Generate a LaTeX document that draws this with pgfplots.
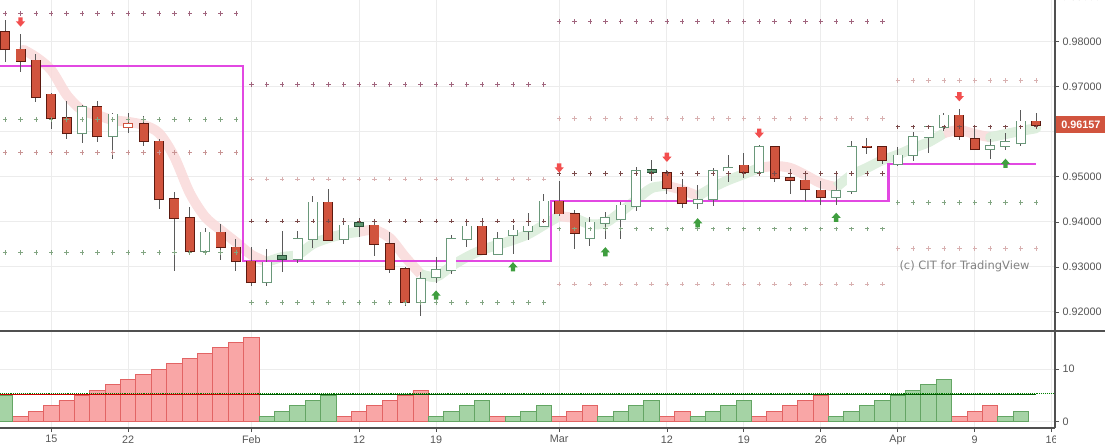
\documentclass[border=0pt]{standalone}
\usepackage{pgfplots}
\pgfplotsset{compat=1.18}
\usepackage{pgfplotstable}
\usepackage{fontspec}
\setmainfont{Liberation Sans}
\newfontfamily\dejavu{DejaVu Sans}

\definecolor{cred}{RGB}{209,84,62}
\definecolor{credb}{RGB}{92,26,16}
\definecolor{cgrn}{RGB}{106,152,122}
\definecolor{cgfill}{RGB}{94,150,112}
\definecolor{cgfillb}{RGB}{40,80,55}
\definecolor{wick}{RGB}{90,90,90}
\definecolor{mag}{RGB}{226,72,226}
\definecolor{ribpink}{RGB}{249,219,219}
\definecolor{ribgreen}{RGB}{218,237,218}
\definecolor{pvmauve}{RGB}{160,100,125}
\definecolor{pvdark}{RGB}{122,74,74}
\definecolor{pvgreen}{RGB}{130,165,130}
\definecolor{pvpink}{RGB}{200,148,148}
\definecolor{pvlpink}{RGB}{216,176,176}
\definecolor{arrred}{RGB}{242,78,78}
\definecolor{arrgrn}{RGB}{63,158,63}
\definecolor{hred}{RGB}{249,166,166}
\definecolor{hredb}{RGB}{226,100,100}
\definecolor{hgrn}{RGB}{165,211,165}
\definecolor{hgrnb}{RGB}{100,165,100}
\definecolor{gridc}{RGB}{236,236,236}
\definecolor{axc}{RGB}{80,80,80}
\definecolor{tickc}{RGB}{85,85,85}
\definecolor{wmark}{RGB}{130,130,130}

\pgfdeclareplotmark{dnarrow}{%
 \pgfpathmoveto{\pgfqpoint{-2.2pt}{4.6pt}}%
 \pgfpathlineto{\pgfqpoint{2.2pt}{4.6pt}}%
 \pgfpathlineto{\pgfqpoint{2.2pt}{0.6pt}}%
 \pgfpathlineto{\pgfqpoint{4.6pt}{0.6pt}}%
 \pgfpathlineto{\pgfqpoint{0pt}{-4.6pt}}%
 \pgfpathlineto{\pgfqpoint{-4.6pt}{0.6pt}}%
 \pgfpathlineto{\pgfqpoint{-2.2pt}{0.6pt}}%
 \pgfpathclose\pgfusepathqfill}
\pgfdeclareplotmark{uparrow}{%
 \pgfpathmoveto{\pgfqpoint{-2.2pt}{-4.6pt}}%
 \pgfpathlineto{\pgfqpoint{2.2pt}{-4.6pt}}%
 \pgfpathlineto{\pgfqpoint{2.2pt}{-0.6pt}}%
 \pgfpathlineto{\pgfqpoint{4.6pt}{-0.6pt}}%
 \pgfpathlineto{\pgfqpoint{0pt}{4.6pt}}%
 \pgfpathlineto{\pgfqpoint{-4.6pt}{-0.6pt}}%
 \pgfpathlineto{\pgfqpoint{-2.2pt}{-0.6pt}}%
 \pgfpathclose\pgfusepathqfill}

% candles: i open high low close
\pgfplotstableread{
i o h l c
-3 0.98222 0.98482 0.97556 0.97831
-2 0.97831 0.98171 0.97334 0.97578
-1 0.97587 0.97727 0.96668 0.96766
0 0.96832 0.96861 0.96056 0.96300
1 0.96300 0.96684 0.95847 0.95967
3 0.96544 0.96684 0.95780 0.95900
6 0.96180 0.96344 0.95692 0.95789
7 0.95789 0.95847 0.94293 0.94502
8 0.94502 0.94670 0.92917 0.94080
9 0.94080 0.94324 0.93265 0.93347
11 0.93769 0.93953 0.93148 0.93436
12 0.93436 0.93614 0.92917 0.93125
13 0.93125 0.93436 0.92584 0.92659
18 0.94435 0.94724 0.93583 0.93598
21 0.93924 0.94027 0.93243 0.93516
22 0.93516 0.93776 0.92872 0.92948
23 0.92948 0.92999 0.92140 0.92215
28 0.93902 0.94093 0.93276 0.93294
33 0.94457 0.94919 0.94138 0.94186
34 0.94186 0.94264 0.93405 0.93760
40 0.95085 0.95152 0.94619 0.94759
41 0.94768 0.94952 0.94315 0.94413
45 0.95256 0.95523 0.94981 0.95101
47 0.95656 0.95685 0.94879 0.94968
48 0.94968 0.95174 0.94619 0.94923
49 0.94923 0.95079 0.94471 0.94724
50 0.94701 0.94901 0.94368 0.94546
53 0.95678 0.95856 0.95501 0.95663
54 0.95656 0.95692 0.95279 0.95367
59 0.96366 0.96513 0.95811 0.95900
60 0.95834 0.96144 0.95612 0.95612
64 0.96233 0.96411 0.96069 0.96157
}\tRed
\pgfplotstableread{
i o h l c
5 0.96100 0.96411 0.95967 0.96180
}\tRedH
\pgfplotstableread{
i o h l c
15 0.93250 0.93798 0.92894 0.93170
20 0.93969 0.94080 0.93671 0.93916
39 0.95152 0.95374 0.94908 0.95108
}\tGrnF
\pgfplotstableread{
i o h l c
2 0.95967 0.96588 0.95758 0.96544
4 0.95900 0.96411 0.95390 0.96388
10 0.93347 0.93871 0.93287 0.93769
14 0.92659 0.93398 0.92584 0.93103
16 0.93170 0.93805 0.93094 0.93614
17 0.93614 0.94575 0.93421 0.94435
19 0.93614 0.94093 0.93509 0.93924
24 0.92215 0.92894 0.91918 0.92726
25 0.92770 0.93214 0.92644 0.92926
26 0.92926 0.93709 0.92843 0.93614
27 0.93614 0.94020 0.93450 0.93902
29 0.93294 0.93776 0.93259 0.93614
30 0.93716 0.93931 0.93294 0.93813
31 0.93805 0.94204 0.93605 0.93902
32 0.93902 0.94626 0.93902 0.94457
35 0.93649 0.94102 0.93465 0.93991
36 0.93982 0.94213 0.93627 0.94080
37 0.94071 0.94442 0.93614 0.94368
38 0.94360 0.95212 0.94249 0.95130
42 0.94420 0.94812 0.94280 0.94493
43 0.94502 0.95203 0.94360 0.95137
44 0.95137 0.95485 0.94892 0.95190
46 0.95101 0.95714 0.95041 0.95656
51 0.94546 0.95114 0.94375 0.94686
52 0.94679 0.95789 0.94613 0.95656
55 0.95292 0.95663 0.95241 0.95478
56 0.95478 0.95996 0.95352 0.95878
57 0.95878 0.96129 0.95536 0.96100
58 0.96100 0.96411 0.96011 0.96366
61 0.95618 0.95840 0.95390 0.95685
62 0.95678 0.95967 0.95596 0.95767
63 0.95745 0.96484 0.95692 0.96233
}\tGrn

% pivot levels per month
\pgfplotstableread{
i a b c d
-3 0.98630 0.96277 0.95545 0.93325
-2 0.98630 0.96277 0.95545 0.93325
-1 0.98630 0.96277 0.95545 0.93325
0 0.98630 0.96277 0.95545 0.93325
1 0.98630 0.96277 0.95545 0.93325
2 0.98630 0.96277 0.95545 0.93325
3 0.98630 0.96277 0.95545 0.93325
4 0.98630 0.96277 0.95545 0.93325
5 0.98630 0.96277 0.95545 0.93325
6 0.98630 0.96277 0.95545 0.93325
7 0.98630 0.96277 0.95545 0.93325
8 0.98630 0.96277 0.95545 0.93325
9 0.98630 0.96277 0.95545 0.93325
10 0.98630 0.96277 0.95545 0.93325
11 0.98630 0.96277 0.95545 0.93325
12 0.98630 0.96277 0.95545 0.93325
}\pvJan
\pgfplotstableread{
i a b c d
13 0.97054 0.94946 0.94020 0.92215
14 0.97054 0.94946 0.94020 0.92215
15 0.97054 0.94946 0.94020 0.92215
16 0.97054 0.94946 0.94020 0.92215
17 0.97054 0.94946 0.94020 0.92215
18 0.97054 0.94946 0.94020 0.92215
19 0.97054 0.94946 0.94020 0.92215
20 0.97054 0.94946 0.94020 0.92215
21 0.97054 0.94946 0.94020 0.92215
22 0.97054 0.94946 0.94020 0.92215
23 0.97054 0.94946 0.94020 0.92215
24 0.97054 0.94946 0.94020 0.92215
25 0.97054 0.94946 0.94020 0.92215
26 0.97054 0.94946 0.94020 0.92215
27 0.97054 0.94946 0.94020 0.92215
28 0.97054 0.94946 0.94020 0.92215
29 0.97054 0.94946 0.94020 0.92215
30 0.97054 0.94946 0.94020 0.92215
31 0.97054 0.94946 0.94020 0.92215
32 0.97054 0.94946 0.94020 0.92215
}\pvFeb
\pgfplotstableread{
i a b c d e
33 0.98453 0.96300 0.95079 0.93849 0.92615
34 0.98453 0.96300 0.95079 0.93849 0.92615
35 0.98453 0.96300 0.95079 0.93849 0.92615
36 0.98453 0.96300 0.95079 0.93849 0.92615
37 0.98453 0.96300 0.95079 0.93849 0.92615
38 0.98453 0.96300 0.95079 0.93849 0.92615
39 0.98453 0.96300 0.95079 0.93849 0.92615
40 0.98453 0.96300 0.95079 0.93849 0.92615
41 0.98453 0.96300 0.95079 0.93849 0.92615
42 0.98453 0.96300 0.95079 0.93849 0.92615
43 0.98453 0.96300 0.95079 0.93849 0.92615
44 0.98453 0.96300 0.95079 0.93849 0.92615
45 0.98453 0.96300 0.95079 0.93849 0.92615
46 0.98453 0.96300 0.95079 0.93849 0.92615
47 0.98453 0.96300 0.95079 0.93849 0.92615
48 0.98453 0.96300 0.95079 0.93849 0.92615
49 0.98453 0.96300 0.95079 0.93849 0.92615
50 0.98453 0.96300 0.95079 0.93849 0.92615
51 0.98453 0.96300 0.95079 0.93849 0.92615
52 0.98453 0.96300 0.95079 0.93849 0.92615
53 0.98453 0.96300 0.95079 0.93849 0.92615
54 0.98453 0.96300 0.95079 0.93849 0.92615
}\pvMar
\pgfplotstableread{
i a b c d
55 0.97143 0.96113 0.94435 0.93414
56 0.97143 0.96113 0.94435 0.93414
57 0.97143 0.96113 0.94435 0.93414
58 0.97143 0.96113 0.94435 0.93414
59 0.97143 0.96113 0.94435 0.93414
60 0.97143 0.96113 0.94435 0.93414
61 0.97143 0.96113 0.94435 0.93414
62 0.97143 0.96113 0.94435 0.93414
63 0.97143 0.96113 0.94435 0.93414
64 0.97143 0.96113 0.94435 0.93414
}\pvApr

% lower panel counters
\pgfplotstableread{
i v
-2 1
-1 2
0 3
1 4
2 5
3 6
4 7
5 8
6 9
7 10
8 11
9 12
10 13
11 14
12 15
13 16
19 1
20 2
21 3
22 4
23 5
24 6
29 1
33 1
34 2
35 3
40 1
41 2
46 1
47 2
48 3
49 4
50 5
59 1
60 2
61 3
}\hRed
\pgfplotstableread{
i v
-3 5
14 1
15 2
16 3
17 4
18 5
25 1
26 2
27 3
28 4
30 1
31 2
32 3
36 1
37 2
38 3
39 4
42 1
43 2
44 3
45 4
51 1
52 2
53 3
54 4
55 5
56 6
57 7
58 8
62 1
63 2
}\hGrn

\newcommand{\candles}[3]{%
 \addplot[draw=none, mark=none, forget plot, error bars/.cd, y dir=both, y explicit, error mark=none,
   error bar style={draw=wick, line width=1pt}]
   table[x=i, y=o, y error plus expr=\thisrow{h}-\thisrow{o}, y error minus expr=\thisrow{o}-\thisrow{l}] {#1};
 \addplot[draw=none, mark=none, forget plot, error bars/.cd, y dir=both, y explicit, error mark=none,
   error bar style={draw=#2, line width=10pt}]
   table[x=i, y expr={min(\thisrow{o},\thisrow{c})-0.00018}, y error plus expr={abs(\thisrow{c}-\thisrow{o})+0.00036}, y error minus expr=0] {#1};
 \addplot[draw=none, mark=none, forget plot, error bars/.cd, y dir=both, y explicit, error mark=none,
   error bar style={draw=#3, line width=8.2pt}]
   table[x=i, y expr={min(\thisrow{o},\thisrow{c})}, y error plus expr={abs(\thisrow{c}-\thisrow{o})}, y error minus expr=0] {#1};
}

\begin{document}
\begin{tikzpicture}
\begin{axis}[
  at={(0pt,-331pt)}, anchor=south west, width=1055pt, height=331pt, scale only axis,
  xmin=-3.333, xmax=65.22, ymin=0.91578, ymax=0.98926,
  axis line style={draw=none},
  xtick={0,5,13,20,25,33,40,45,50,55,60,65}, xticklabels={}, x tick style={draw=none},
  ytick={0.92,0.93,0.94,0.95,0.97,0.98}, extra y ticks={0.96}, extra y tick labels={},
  ytick pos=right, yticklabel pos=right, tick align=outside, major tick length=4pt,
  y tick style={axc, line width=0.8pt},
  xmajorgrids, ymajorgrids, grid style={gridc, line width=1pt},
  /pgf/number format/assume math mode=true,
  yticklabel style={/pgf/number format/.cd, fixed, fixed zerofill, precision=5, /tikz/.cd,
     font=\fontsize{10.8}{13}\selectfont, text=tickc},
  clip=true,
]
% ribbon
\pgfplotsset{rib/.style={line width=10pt, smooth, tension=0.5, opacity=0.9}}
\addplot[rib, ribpink, line cap=round] coordinates {(-1.8,0.9782) (-1,0.9766) (0,0.9737) (1,0.9682) (2,0.9648) (3,0.9637) (4,0.9626) (5,0.9622) (6,0.9615) (7,0.9597) (8,0.9544) (9,0.9464) (10,0.9411) (11,0.9382) (12,0.9355) (13,0.9327) (14,0.9311)};
\addplot[rib, ribgreen] coordinates {(14,0.9311) (15,0.9322) (16,0.9327) (17,0.9351) (18,0.9364) (19,0.9373) (20,0.9378)};
\addplot[rib, ribpink] coordinates {(20,0.9378) (21,0.9382) (22,0.9364) (23,0.9322) (24,0.9284)};
\addplot[rib, ribgreen] coordinates {(24,0.9284) (25,0.9278) (26,0.9302) (27,0.9322) (28,0.9338) (29,0.9349) (30,0.9360) (31,0.9373) (32,0.9393) (33,0.9413)};
\addplot[rib, ribpink] coordinates {(33,0.9413) (34,0.9409)};
\addplot[rib, ribgreen] coordinates {(34,0.9409) (35,0.9395) (36,0.9398) (37,0.9422) (38,0.9449) (39,0.9475) (40,0.9480)};
\addplot[rib, ribpink] coordinates {(40,0.9480) (41,0.9471) (42,0.9457)};
\addplot[rib, ribgreen] coordinates {(42,0.9457) (43,0.9477) (44,0.9493) (45,0.9506) (46,0.9520)};
\addplot[rib, ribpink] coordinates {(46,0.9520) (47,0.9524) (48,0.9520) (49,0.9504) (50,0.9486) (51,0.9477)};
\addplot[rib, ribgreen] coordinates {(51,0.9477) (52,0.9504) (53,0.9520) (54,0.9537) (55,0.9549) (56,0.9564) (57,0.9577) (58,0.9597)};
\addplot[rib, ribpink] coordinates {(58,0.9597) (59,0.9604) (60,0.9595) (61,0.9588)};
\addplot[rib, ribgreen, line cap=round] coordinates {(61,0.9588) (62,0.9595) (63,0.9602) (64,0.9608)};
% pivot levels
\pgfplotsset{pv/.style={only marks, mark=+, mark size=2.2pt, line width=0.8pt}}
\addplot[pv, pvmauve] table[x=i,y=a]{\pvJan};
\addplot[pv, pvgreen] table[x=i,y=b]{\pvJan};
\addplot[pv, pvpink] table[x=i,y=c]{\pvJan};
\addplot[pv, pvgreen] table[x=i,y=d]{\pvJan};
\addplot[pv, pvmauve] table[x=i,y=a]{\pvFeb};
\addplot[pv, pvlpink] table[x=i,y=b]{\pvFeb};
\addplot[pv, pvdark] table[x=i,y=c]{\pvFeb};
\addplot[pv, pvgreen] table[x=i,y=d]{\pvFeb};
\addplot[pv, pvmauve] table[x=i,y=a]{\pvMar};
\addplot[pv, pvlpink] table[x=i,y=b]{\pvMar};
\addplot[pv, pvdark] table[x=i,y=c]{\pvMar};
\addplot[pv, pvgreen] table[x=i,y=d]{\pvMar};
\addplot[pv, pvlpink] table[x=i,y=e]{\pvMar};
\addplot[pv, pvlpink] table[x=i,y=a]{\pvApr};
\addplot[pv, pvdark] table[x=i,y=b]{\pvApr};
\addplot[pv, pvgreen] table[x=i,y=c]{\pvApr};
\addplot[pv, pvlpink] table[x=i,y=d]{\pvApr};
% pivot step line
\addplot[mag, line width=2.3pt] coordinates {(-3.333,0.97467) (12.46,0.97467) (12.46,0.93139) (32.45,0.93139) (32.45,0.94471) (54.4,0.94471) (54.4,0.95292) (64,0.95292)};
% candles
\candles{\tRed}{credb}{cred}
\candles{\tRedH}{cred}{white}
\candles{\tGrn}{cgrn}{white}
\candles{\tGrnF}{cgfillb}{cgfill}
% signals
\addplot[only marks, mark=dnarrow, arrred] coordinates {(-2,0.98437) (33,0.95196) (40,0.95434) (46,0.95967) (59,0.96779)};
\addplot[only marks, mark=uparrow, arrgrn] coordinates {(25,0.92377) (30,0.93005) (36,0.93338) (42,0.93982) (51,0.94102) (62,0.95301)};
\coordinate (pr) at (axis cs:65.22,0.96157);
\end{axis}

\begin{axis}[
  at={(0pt,-428pt)}, anchor=south west, width=1055pt, height=97pt, scale only axis,
  xmin=-3.333, xmax=65.22, ymin=-1.195, ymax=17.21,
  axis line style={draw=none},
  xtick={0,5,13,20,25,33,40,45,50,55,60,65},
  xticklabels={15,22,Feb,12,19,Mar,12,19,26,Apr,9,16},
  xtick pos=bottom, ytick={0,10}, ytick pos=right, yticklabel pos=right,
  tick align=outside, major tick length=4pt, tick style={axc, line width=0.8pt},
  xmajorgrids, ymajorgrids, grid style={gridc, line width=1pt},
  /pgf/number format/assume math mode=true,
  ticklabel style={font=\fontsize{10.8}{13}\selectfont, text=tickc},
  clip=true,
]
\addplot[ybar, bar width=1, bar shift=0pt, fill=hred, draw=hredb, line width=0.9pt] table[x=i,y=v]{\hRed};
\addplot[ybar, bar width=1, bar shift=0pt, fill=hgrn, draw=hgrnb, line width=0.9pt] table[x=i,y=v]{\hGrn};
\addplot[green!50!black, line width=0.9pt, densely dotted] coordinates {(-3.333,5.3) (65.22,5.3)};
\addplot[red!80!black, line width=0.9pt] coordinates {(-3.333,5.15) (13.5,5.15)};
\addplot[green!35!black, line width=0.9pt] coordinates {(13.5,5.2) (64,5.2)};
\end{axis}

\draw[axc, line width=1.2pt] (0pt,-331pt) -- (1105pt,-331pt);
\draw[axc, line width=1.2pt] (1055pt,0pt) -- (1055pt,-428pt);
\draw[axc, line width=1.2pt] (0pt,-428pt) -- (1055pt,-428pt);
\node[font=\dejavu\fontsize{11.5}{13}\selectfont, text=wmark] at (964.5pt,-266.7pt) {(c) CIT for TradingView};
\path (pr) ++(0.6pt,0) node[anchor=west, fill=cred, text=white, inner sep=0pt, minimum height=17pt, minimum width=50pt, font=\bfseries\fontsize{10.8}{13}\selectfont] {0.96157};
\node[anchor=west, inner sep=0pt, text=tickc, font=\fontsize{10.8}{13}\selectfont] at (1061.5pt,3pt) {0.99000};
\fill[white] (1055.7pt,-431pt) rectangle (1105pt,-445pt);
\pgfresetboundingbox
\useasboundingbox (0pt,0pt) rectangle (1105pt,-445pt);
\end{tikzpicture}
\end{document}
